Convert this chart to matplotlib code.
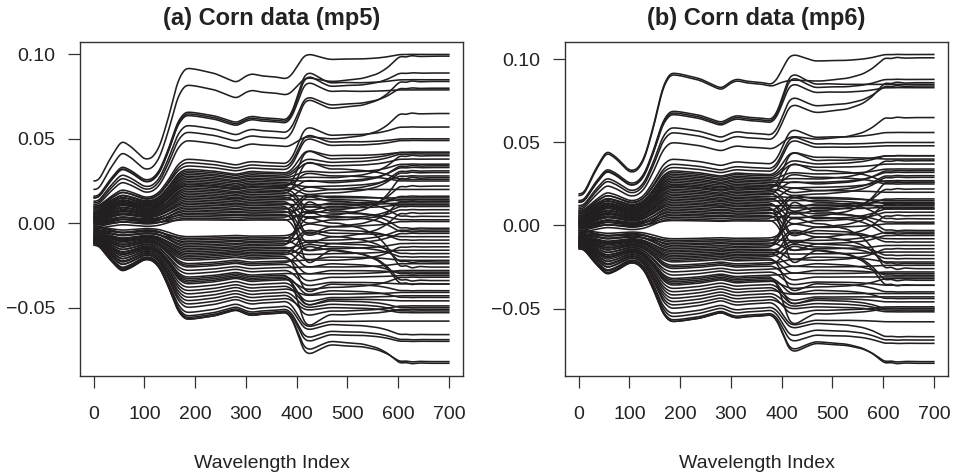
import numpy as np
import matplotlib
matplotlib.use("Agg")
import matplotlib.pyplot as plt

plt.rcParams['font.family'] = ['Liberation Sans', 'DejaVu Sans']

# ---------------- data ----------------
wavelength_index = np.arange(1, 701)
x_ticks = [0, 100, 200, 300, 400, 500, 600, 700]
y_ticks = [-0.05, 0.00, 0.05, 0.10]
titles = ["(a) Corn data (mp5)", "(b) Corn data (mp6)"]
x_label = "Wavelength Index"

# common spectral shape (key points)
step1_x = [0, 10, 30, 55, 75, 100, 115, 130, 150, 165, 180, 200, 240, 270, 282, 300, 312, 330, 360, 382, 395, 700]
step1_y = [0, 0, 0.18, 0.36, 0.30, 0.19, 0.20, 0.30, 0.60, 0.88, 1.0, 0.99, 0.95, 0.89, 0.87, 0.93, 0.95, 0.93, 0.92, 0.90, 0.92, 0.92]
step2_x = [0, 380, 392, 402, 415, 428, 445, 465, 490, 520, 700]
step2_y = [0, 0, 0.2, 0.65, 1.25, 1.3, 1.15, 1.0, 1.02, 1.0, 1.0]
step3_x = [0, 480, 530, 560, 580, 595, 605, 615, 625, 640, 660, 700]
step3_y = [0, 0, 0.12, 0.30, 0.55, 0.85, 1.03, 0.93, 1.04, 0.98, 1.0, 1.0]

# per-sample levels, panel (a): value at index 0, at ~185, at ~480, at 700
start_a = [0.025, 0.020, 0.016, 0.015, 0.015, 0.013, 0.012, 0.011, 0.010, 0.009,
           0.010, 0.008, 0.009, 0.007, 0.008, 0.006, 0.007, 0.006, 0.005, 0.006,
           0.004, 0.005, 0.003, 0.004, 0.003, 0.002, 0.003, 0.001, 0.002, 0.000,
           0.001, -0.001, 0.000, -0.002, 0.001, -0.001, -0.003, 0.000, -0.002, -0.004,
           -0.003, -0.005, -0.004, -0.006, -0.005, -0.006, -0.007, -0.006, -0.008, -0.007,
           -0.008, -0.009, -0.008, -0.009, -0.010, -0.009, -0.010, -0.011, -0.010, -0.011,
           -0.011, -0.012, -0.011, -0.012, -0.012, -0.013, -0.012, -0.013, 0.004, -0.002,
           0.002, -0.004, 0.003, -0.007, -0.009, -0.010, 0.005, -0.006, 0.002, -0.008]
plateau1_a = [0.092, 0.082, 0.066, 0.065, 0.064, 0.058, 0.054, 0.049, 0.038, 0.036,
              0.034, 0.032, 0.031, 0.030, 0.029, 0.028, 0.027, 0.026, 0.025, 0.024,
              0.023, 0.022, 0.021, 0.020, 0.018, 0.017, 0.015, 0.013, 0.012, 0.010,
              0.009, 0.008, 0.007, 0.006, 0.005, 0.004, 0.003, 0.002, -0.008, -0.009,
              -0.010, -0.011, -0.013, -0.015, -0.016, -0.017, -0.018, -0.020, -0.022, -0.024,
              -0.026, -0.028, -0.030, -0.032, -0.034, -0.036, -0.038, -0.040, -0.042, -0.044,
              -0.046, -0.048, -0.050, -0.053, -0.055, -0.056, -0.057, -0.057, 0.019, -0.012,
              0.011, -0.014, 0.016, -0.021, -0.033, -0.035, 0.023, -0.019, 0.014, -0.025]
plateau2_a = [0.097, 0.084, 0.083, 0.081, 0.078, 0.070, 0.068, 0.050, 0.052, 0.048,
              0.046, 0.040, 0.036, 0.034, 0.030, 0.027, 0.025, 0.020, 0.022, 0.028,
              0.018, 0.012, 0.024, 0.010, 0.016, 0.008, 0.014, 0.005, 0.011, 0.002,
              0.015, -0.004, 0.009, -0.008, 0.004, 0.013, -0.012, 0.006, -0.002, -0.010,
              0.003, -0.015, -0.006, -0.020, -0.012, -0.018, -0.024, -0.014, -0.028, -0.022,
              -0.032, -0.026, -0.035, -0.030, -0.040, -0.038, -0.044, -0.046, -0.042, -0.048,
              -0.052, -0.050, -0.058, -0.060, -0.064, -0.066, -0.072, -0.070, 0.032, 0.000,
              -0.016, 0.007, 0.020, -0.036, -0.054, -0.045, 0.038, -0.008, -0.002, -0.016]
end_a = [0.100, 0.099, 0.085, 0.089, 0.079, 0.080, 0.084, 0.065, 0.057, 0.050,
         0.049, 0.042, 0.041, 0.038, 0.035, 0.040, 0.033, 0.031, 0.028, 0.025,
         0.030, 0.014, 0.034, 0.016, 0.013, 0.022, 0.010, 0.027, 0.012, 0.008,
         0.015, -0.010, 0.011, 0.006, -0.005, 0.004, -0.018, 0.002, 0.013, -0.004,
         0.010, -0.012, -0.008, -0.022, -0.006, -0.016, -0.030, -0.020, -0.029, -0.014,
         -0.031, -0.024, -0.036, -0.028, -0.044, -0.032, -0.043, -0.050, -0.041, -0.052,
         -0.049, -0.053, -0.058, -0.066, -0.069, -0.070, -0.082, -0.083, 0.026, -0.026,
         -0.034, -0.003, 0.020, -0.040, -0.051, -0.046, 0.042, -0.023, 0.001, -0.036]

# per-sample levels, panel (b)
start_b = [0.019, 0.018, 0.015, 0.014, 0.014, 0.012, 0.011, 0.010, 0.009, 0.008,
           0.009, 0.007, 0.008, 0.006, 0.007, 0.005, 0.006, 0.005, 0.004, 0.005,
           0.003, 0.004, 0.002, 0.003, 0.002, 0.001, 0.002, 0.000, 0.001, -0.001,
           0.000, -0.002, -0.001, -0.003, 0.000, -0.002, -0.004, -0.001, -0.003, -0.005,
           -0.004, -0.006, -0.005, -0.007, -0.006, -0.007, -0.008, -0.007, -0.009, -0.008,
           -0.009, -0.010, -0.009, -0.010, -0.011, -0.010, -0.011, -0.012, -0.011, -0.012,
           -0.012, -0.013, -0.012, -0.013, -0.013, -0.014, -0.013, -0.014, 0.003, -0.003,
           0.001, -0.005, 0.002, -0.008, -0.010, -0.011, 0.004, -0.007, 0.001, -0.009]
plateau1_b = [0.092, 0.091, 0.069, 0.068, 0.067, 0.059, 0.056, 0.050, 0.040, 0.037,
              0.035, 0.033, 0.032, 0.031, 0.030, 0.029, 0.028, 0.027, 0.026, 0.025,
              0.024, 0.023, 0.022, 0.021, 0.019, 0.018, 0.016, 0.014, 0.013, 0.011,
              0.010, 0.009, 0.008, 0.007, 0.006, 0.005, 0.004, 0.003, -0.008, -0.009,
              -0.010, -0.011, -0.013, -0.015, -0.016, -0.017, -0.018, -0.020, -0.022, -0.024,
              -0.026, -0.028, -0.030, -0.032, -0.034, -0.036, -0.038, -0.040, -0.042, -0.044,
              -0.046, -0.048, -0.050, -0.053, -0.055, -0.057, -0.058, -0.058, 0.020, -0.012,
              0.012, -0.014, 0.017, -0.021, -0.033, -0.035, 0.024, -0.019, 0.015, -0.025]
plateau2_b = [0.099, 0.087, 0.085, 0.083, 0.080, 0.072, 0.068, 0.052, 0.053, 0.049,
              0.047, 0.041, 0.037, 0.035, 0.031, 0.028, 0.026, 0.021, 0.023, 0.029,
              0.019, 0.013, 0.025, 0.011, 0.017, 0.009, 0.015, 0.006, 0.012, 0.003,
              0.016, -0.003, 0.010, -0.007, 0.005, 0.014, -0.011, 0.007, -0.001, -0.009,
              0.004, -0.014, -0.005, -0.019, -0.011, -0.017, -0.023, -0.013, -0.027, -0.021,
              -0.031, -0.025, -0.034, -0.029, -0.039, -0.037, -0.043, -0.045, -0.041, -0.047,
              -0.051, -0.049, -0.057, -0.059, -0.063, -0.066, -0.071, -0.070, 0.033, 0.001,
              -0.015, 0.008, 0.021, -0.035, -0.053, -0.044, 0.039, -0.007, -0.001, -0.015]
end_b = [0.103, 0.101, 0.085, 0.088, 0.083, 0.084, 0.086, 0.065, 0.056, 0.050,
         0.048, 0.040, 0.042, 0.037, 0.034, 0.039, 0.032, 0.030, 0.027, 0.025,
         0.029, 0.014, 0.033, 0.016, 0.013, 0.022, 0.010, 0.026, 0.012, 0.008,
         0.015, -0.010, 0.011, 0.006, -0.005, 0.004, -0.018, 0.002, 0.013, -0.004,
         0.010, -0.012, -0.008, -0.022, -0.006, -0.016, -0.030, -0.020, -0.029, -0.014,
         -0.031, -0.024, -0.036, -0.028, -0.044, -0.032, -0.043, -0.050, -0.041, -0.051,
         -0.049, -0.052, -0.058, -0.067, -0.069, -0.071, -0.082, -0.083, 0.026, -0.026,
         -0.033, -0.003, 0.020, -0.040, -0.050, -0.046, 0.042, -0.023, 0.001, -0.036]

panels = [(start_a, plateau1_a, plateau2_a, end_a),
          (start_b, plateau1_b, plateau2_b, end_b)]


def smooth(y, s=5.0):
    h = 18
    k = np.exp(-0.5 * (np.arange(-h, h + 1) / s) ** 2)
    k /= k.sum()
    yp = np.pad(y, h, mode='edge')
    return np.convolve(yp, k, mode='same')[h:-h]


xi = wavelength_index.astype(float)
T1 = smooth(np.interp(xi, step1_x, step1_y))
T2 = smooth(np.interp(xi, step2_x, step2_y))
T3 = smooth(np.interp(xi, step3_x, step3_y))
t1_end = step1_y[-1]

# ---------------- figure ----------------
fig = plt.figure(figsize=(9.55, 4.75), dpi=100)
W, H = 955, 475
boxes = [(80, 42, 463, 376), (565, 42, 948, 376)]
line_color = '#231f20'

for (l, t, r, b), title, (s0, p1, p2, e3) in zip(boxes, titles, panels):
    ax = fig.add_axes([l / W, 1 - b / H, (r - l) / W, (b - t) / H])
    allv = []
    for a0, b1, c2, d3 in zip(s0, p1, p2, e3):
        before = a0 + t1_end * (b1 - a0)
        y = a0 + (b1 - a0) * T1 + (c2 - before) * T2 + (d3 - c2) * T3
        ax.plot(wavelength_index, y, color=line_color, lw=1.15, solid_joinstyle='round')
        allv.append(y)
    allv = np.concatenate(allv)
    lo, hi = allv.min(), allv.max()
    pad = 0.04 * (hi - lo)
    ax.set_ylim(lo - pad, hi + pad)
    ax.set_xlim(1 - 0.04 * 699, 700 + 0.04 * 699)
    ax.set_xticks(x_ticks)
    ax.set_yticks(y_ticks)
    ax.set_yticklabels([f"{v:.2f}".replace('-', '\u2212') for v in y_ticks])
    ax.tick_params(direction='out', length=8.5, width=0.9, color='#333333',
                   labelsize=14, labelcolor='#222222')
    ax.tick_params(axis='x', pad=13)
    ax.tick_params(axis='y', pad=9)
    for sp in ax.spines.values():
        sp.set_color('#333333')
        sp.set_linewidth(1.0)
    ax.set_title(title, fontsize=17, fontweight='bold', pad=12, color='#222222')
    ax.set_xlabel(x_label, fontsize=14, labelpad=23, color='#222222')

fig.savefig("out.png", dpi=100)
